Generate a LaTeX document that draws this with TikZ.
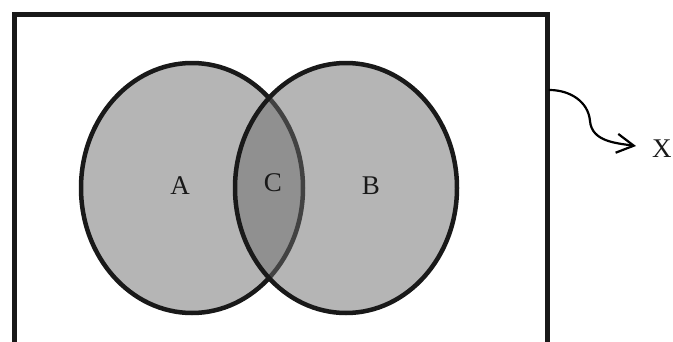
\documentclass[tikz,border=0pt]{standalone}
\usepackage{fontspec}
\setmainfont{Liberation Serif}
\usetikzlibrary{shapes.geometric,arrows.meta}
\begin{document}
\begin{tikzpicture}[x=1pt,y=-1pt,
  setshape/.style={ellipse, draw=black!90, line width=4.5pt, fill=black!58, fill opacity=0.5, draw opacity=1, minimum width=222pt, minimum height=250pt, inner sep=0pt},
  lab/.style={font=\fontsize{27}{27}\selectfont, inner sep=0pt, text=black!90},
  frame/.style={draw=black!90, line width=4.5pt}]
\useasboundingbox (0,0) rectangle (673,341);
\clip (0,0) rectangle (673,341);
\node[frame, rectangle, minimum width=533pt, minimum height=360pt, inner sep=0pt, anchor=north west] (U) at (12,12) {};
\node[setshape] (SA) at (192,188) {};
\node[setshape] (SB) at (346,188) {};
\node[lab] (A) at (180,186) {A};
\node[lab] (C) at (273,183) {C};
\node[lab] (B) at (371,186) {B};
\node[lab, anchor=west] (X) at (652,149) {X};
\coordinate (s) at ([yshift=-78pt]U.north east);
\coordinate (m) at (590,121);
\coordinate (t) at (636,146);
\draw[line width=2.2pt, line cap=round, line join=round, -{Straight Barb[length=17pt,width=19pt]}] (s) to[out=0,in=95] (m) to[out=-85,in=172] (t);
\end{tikzpicture}
\end{document}
